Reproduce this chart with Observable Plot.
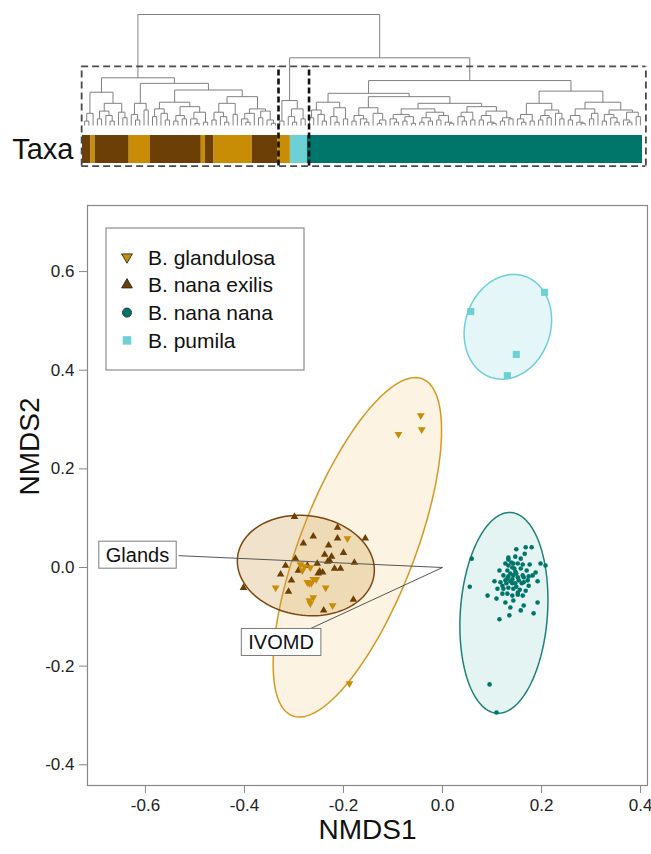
<!DOCTYPE html>
<html><head><meta charset="utf-8">
<script src="https://cdn.jsdelivr.net/npm/d3@7"></script>
<script src="https://cdn.jsdelivr.net/npm/@observablehq/plot@0.6"></script>
<style>
body{margin:0;background:#fff;overflow:hidden;}
#chart{width:651px;}
#chart svg{display:block;}
</style></head><body><div id="chart"></div>
<script>
const FONT = "'Liberation Sans', Arial, Helvetica, sans-serif";

// ---------- categories ----------
const taxa = ["B. glandulosa", "B. nana exilis", "B. nana nana", "B. pumila"];
const taxaColors = ["#C98C05", "#6B3F05", "#00756A", "#6ECFD5"];

// ---------- axis ticks ----------
const xTicks = [-0.6, -0.4, -0.2, 0.0, 0.2, 0.4];
const yTicks = [-0.4, -0.2, 0.0, 0.2, 0.4, 0.6];

// ---------- NMDS scores [NMDS1, NMDS2] ----------
const glandulosa = [[-0.044,0.308],[-0.042,0.280],[-0.089,0.270],[-0.188,-0.235],
  [-0.192,0.059],[-0.287,0.006],[-0.279,0.002],[-0.267,0.000],[-0.283,-0.006],[-0.261,-0.024],
  [-0.273,-0.030],[-0.269,-0.032],[-0.265,-0.032],[-0.255,-0.024],[-0.236,-0.041],[-0.337,-0.041],
  [-0.261,-0.061],[-0.269,-0.067],[-0.267,-0.073],[-0.222,-0.077]];
const nanaExilis = [[-0.299,0.103],[-0.212,0.081],[-0.261,0.063],[-0.281,0.049],[-0.212,0.059],
  [-0.156,0.059],[-0.230,0.045],[-0.200,0.030],[-0.238,0.026],[-0.224,0.022],[-0.228,0.014],
  [-0.232,0.012],[-0.297,0.018],[-0.178,0.010],[-0.317,0.004],[-0.253,0.008],[-0.273,0.004],
  [-0.218,-0.002],[-0.206,-0.002],[-0.291,-0.006],[-0.248,-0.008],[-0.242,-0.010],[-0.327,-0.014],
  [-0.251,-0.012],[-0.305,-0.026],[-0.402,-0.041],[-0.311,-0.049],[-0.180,-0.065],[-0.240,-0.087]];
const nanaNana = [[0.059,0.018],[0.055,-0.039],[0.095,-0.237],[0.109,-0.294],[0.208,0.004],
  [0.198,0.008],[0.180,0.041],[0.149,0.037],[0.166,0.028],[0.147,0.022],[0.133,0.016],[0.127,0.008],
  [0.139,0.010],[0.152,0.008],[0.162,0.006],[0.176,0.006],[0.115,-0.006],[0.131,-0.006],[0.141,0.000],
  [0.147,-0.008],[0.158,-0.002],[0.170,-0.006],[0.188,-0.010],[0.123,-0.016],[0.133,-0.018],
  [0.143,-0.016],[0.152,-0.020],[0.164,-0.020],[0.174,-0.018],[0.192,-0.028],[0.105,-0.028],
  [0.117,-0.030],[0.127,-0.026],[0.137,-0.028],[0.147,-0.032],[0.160,-0.032],[0.174,-0.037],
  [0.111,-0.043],[0.123,-0.043],[0.133,-0.041],[0.143,-0.043],[0.156,-0.045],[0.168,-0.047],
  [0.091,-0.057],[0.109,-0.063],[0.121,-0.053],[0.131,-0.053],[0.141,-0.057],[0.152,-0.055],
  [0.162,-0.057],[0.137,-0.081],[0.158,-0.087],[0.164,-0.077],[0.184,-0.093],[0.192,-0.071],
  [0.135,-0.097],[0.115,-0.105],[0.143,-0.067],[0.127,-0.071],
  [0.133,0.004],[0.143,0.008],[0.145,-0.002],[0.137,-0.012],[0.149,-0.012],[0.131,-0.022],
  [0.141,-0.024],[0.154,-0.026],[0.164,-0.030],[0.121,-0.037],[0.149,-0.039],[0.129,-0.032],
  [0.162,-0.016],[0.172,-0.026],[0.182,-0.016],[0.152,-0.051],[0.141,-0.032],[0.133,0.020],
  [0.158,0.018],[0.168,0.041]];
const pumila = [[0.057,0.519],[0.206,0.558],[0.149,0.432],[0.131,0.389]];

// ---------- dispersion ellipses (order of taxa) ----------
const ellipseCX = [-0.172, -0.276, 0.124, 0.132];
const ellipseCY = [0.041, 0.004, -0.092, 0.488];
const ellipseA = [0.366, 0.139, 0.204, 0.108];
const ellipseB = [0.116, 0.101, 0.088, 0.086];
const ellipseAngle = [69, -8, 86, 72];

// ---------- fitted vectors ----------
const vectorNames = ["Glands", "IVOMD"];
const vectorX = [-0.533, -0.267];
const vectorY = [0.024, -0.124];
const vectorLabelX = [-0.615, -0.325];
const vectorLabelY = [0.025, -0.152];

// ---------- dendrogram: [height, left, right], 0 = leaf ----------
const cluster1 = [43,
  [30, [11,[4,0,0],0], [20,[13,[6,0,0],[9,0,[4,0,0]]],[12,0,[7,0,0]]]],
  [38, [20,[10,0,[5,0,0]],[14,0,0]],
       [32, [21,[15,[8,0,0],[11,0,[5,0,0]]],[17,[9,[4,0,0],[6,0,0]],[12,[6,0,[2,0,0]],[3,0,0]]]],
            [26, [20,[12,[5,0,0],[8,0,[3,0,0]]],[10,0,0]],
                 [15,[11,[6,0,[3,0,0]],0],[13,[7,0,0],[5,0,[2,0,0]]]]]]]];
const cluster2 = [22.5, [4,0,0], [15,[8,0,[3,0,0]],[6,0,0]]];
const cluster3 = [40.5,
  [29, [21,[14,[7,0,0],[10,0,[4,0,0]]],[16,[8,0,[3,0,0]],[6,0,0]]],
       [26, [16,[9,[4,0,0],[6,0,[3,0,0]]],[11,0,[5,[2,0,0],0]]],
            [20, [15,[10,[6,0,[3,0,0]],[8,[4,0,0],[2,0,0]]],[12,[7,[3,0,0],[4,0,0]],[9,[5,0,0],[3,0,[2,0,0]]]]],
                 [17,[12,[8,0,[4,0,0]],[5,0,0]],[13,[9,[5,0,0],[3,0,[2,0,0]]],[7,[4,0,0],[6,0,0]]]]]]],
  [31, [20,[10,[6,0,[3,0,0]],[4,0,0]],[14,[9,[5,0,0],[7,0,0]],[11,0,[6,0,0]]]],
       [21,[15,[9,[5,0,0],[3,0,[2,0,0]]],[11,[6,0,0],0]],[14,[10,[4,0,0],[7,0,[3,0,0]]],[12,[5,0,[3,0,0]],[8,0,0]]]]]];
const rootHeight = 100;
const rightHeight = 61;
// taxon of each leaf, left to right (run lengths)
const taxaRuns = [["B. nana exilis",2],["B. glandulosa",1],["B. nana exilis",8],["B. glandulosa",5],
  ["B. nana exilis",12],["B. glandulosa",1],["B. nana exilis",2],["B. glandulosa",9],
  ["B. nana exilis",6],["B. glandulosa",3],["B. pumila",4],["B. nana nana",79]];

// ================= build dendrogram =================
const tree = [rootHeight, cluster1, [rightHeight, cluster2, cluster3]];
let leafCounter = 0;
const segs = [];
function layout(node) {
  if (node === 0) return {x: leafCounter++, h: 0};
  const [h, ...kids] = node;
  const pos = kids.map(layout);
  pos.forEach(p => segs.push({x1: p.x, y1: p.h, x2: p.x, y2: h}));
  segs.push({x1: pos[0].x, y1: h, x2: pos[pos.length - 1].x, y2: h});
  return {x: (pos[0].x + pos[pos.length - 1].x) / 2, h};
}
layout(tree);
const nLeaves = leafCounter;
const countLeaves = n => n === 0 ? 1 : n.slice(1).reduce((s, k) => s + countLeaves(k), 0);
const clusterSizes = [cluster1, cluster2, cluster3].map(countLeaves);
const boundaries = [-0.5];
clusterSizes.forEach(s => boundaries.push(boundaries[boundaries.length - 1] + s));
const innerBounds = boundaries.slice(1, -1);
const outerBounds = [boundaries[0], boundaries[boundaries.length - 1]];
const runs = [];
let pos0 = -0.5;
taxaRuns.forEach(([t, n]) => { runs.push({taxon: t, x1: pos0, x2: pos0 + n}); pos0 += n; });

const bandTop = -9, bandBottom = -34.2, boxTop = 53.2, boxBottom = -36.5;

const dendroChart = Plot.plot({
  width: 651, height: 185,
  marginLeft: 82, marginRight: 9, marginTop: 14, marginBottom: 19,
  style: {fontFamily: FONT, background: "white"},
  x: {domain: [-0.5, nLeaves - 0.5], axis: null},
  y: {domain: [-36.9, 100], axis: null},
  color: {domain: taxa, range: taxaColors},
  marks: [
    Plot.rect(runs, {x1: "x1", x2: "x2", y1: () => bandTop, y2: () => bandBottom, fill: "taxon"}),
    Plot.link(segs, {x1: "x1", y1: "y1", x2: "x2", y2: "y2", stroke: "#808080", strokeWidth: 1}),
    Plot.ruleY([boxTop, boxBottom], {x1: () => outerBounds[0] - 0.2, x2: () => outerBounds[1] + 0.8,
      stroke: "#4a4a4a", strokeWidth: 1.8, strokeDasharray: "7,4"}),
    Plot.ruleX(outerBounds, {x: (d, i) => d + (i === 0 ? -0.2 : 0.8), y1: () => boxBottom, y2: () => boxTop,
      stroke: "#4a4a4a", strokeWidth: 1.8, strokeDasharray: "7,4"}),
    Plot.ruleX(innerBounds, {x: (d, i) => d + (i === 0 ? 0.2 : 0.4), y1: () => boxBottom, y2: () => boxTop,
      stroke: "#111", strokeWidth: 2.6, strokeDasharray: "6,3"}),
    Plot.text(["Taxa"], {x: () => -0.5, y: () => (bandTop + bandBottom) / 2, dx: -9,
      textAnchor: "end", fontSize: 29, fill: "#111"})
  ]
});

// ================= scatter =================
const triDown = {draw(ctx, size) {
  const flip = {moveTo: (x, y) => ctx.moveTo(x, -y), lineTo: (x, y) => ctx.lineTo(x, -y), closePath: () => ctx.closePath()};
  d3.symbolTriangle.draw(flip, size);
}};
const ellipseStyle = [
  {fill: "#E6A020", op: 0.13, stroke: "#D39A22"},
  {fill: "#CD9A45", op: 0.28, stroke: "#7A4812"},
  {fill: "#1AA390", op: 0.12, stroke: "#1F8276"},
  {fill: "#6ECFD5", op: 0.19, stroke: "#6ECFD5"}
];
function ellipsePoints(i) {
  const th = ellipseAngle[i] * Math.PI / 180, pts = [];
  for (let k = 0; k <= 120; k++) {
    const t = 2 * Math.PI * k / 120;
    const ex = ellipseA[i] * Math.cos(t), ey = ellipseB[i] * Math.sin(t);
    pts.push([ellipseCX[i] + ex * Math.cos(th) - ey * Math.sin(th), ellipseCY[i] + ex * Math.sin(th) + ey * Math.cos(th)]);
  }
  return pts;
}
const vectors = vectorNames.map((n, i) => ({name: n, x: vectorX[i], y: vectorY[i], lx: vectorLabelX[i], ly: vectorLabelY[i]}));
const measureCtx = document.createElement("canvas").getContext("2d");

function vectorLabels(index, scales) {
  const g = d3.create("svg:g").attr("font-family", FONT);
  measureCtx.font = "20px " + FONT;
  vectors.forEach(v => {
    const cx = scales.x(v.lx), cy = scales.y(v.ly);
    const w = measureCtx.measureText(v.name).width + 14, h = 27;
    g.append("rect").attr("x", cx - w / 2).attr("y", cy - h / 2).attr("width", w).attr("height", h)
      .attr("fill", "white").attr("stroke", "#7a7a7a").attr("stroke-width", 1);
    g.append("text").attr("x", cx).attr("y", cy).attr("dy", "0.36em").attr("text-anchor", "middle")
      .attr("font-size", 20).attr("fill", "#111").text(v.name);
  });
  return g.node();
}
const legendSymbols = [triDown, d3.symbolTriangle, d3.symbolCircle, d3.symbolSquare];
const legendSizes = [50, 50, 64, 72];
function legend(index, scales, values, dims) {
  const g = d3.create("svg:g").attr("font-family", FONT);
  const x0 = dims.marginLeft + 19, y0 = dims.marginTop + 23;
  g.append("rect").attr("x", x0).attr("y", y0).attr("width", 198).attr("height", 142)
    .attr("fill", "white").attr("stroke", "#777");
  taxa.forEach((t, i) => {
    const cy = y0 + 29 + i * 27.8;
    g.append("path").attr("transform", `translate(${x0 + 21},${cy})`)
      .attr("d", d3.symbol(legendSymbols[i], legendSizes[i])())
      .attr("fill", taxaColors[i]).attr("stroke", i === 3 ? "none" : "#2a2a2a").attr("stroke-width", 0.9);
    g.append("text").attr("x", x0 + 42).attr("y", cy).attr("dy", "0.36em")
      .attr("text-anchor", "start").attr("font-size", 21).attr("fill", "#111").text(t);
  });
  return g.node();
}

const ellipseMarks = taxa.map((t, i) => Plot.line(ellipsePoints(i), {
  x: d => d[0], y: d => d[1], fill: ellipseStyle[i].fill, fillOpacity: ellipseStyle[i].op,
  stroke: ellipseStyle[i].stroke, strokeWidth: 1.5, curve: "linear-closed"}));

const scatterChart = Plot.plot({
  width: 651, height: 669,
  marginLeft: 87, marginRight: 4, marginTop: 20, marginBottom: 69,
  style: {fontFamily: FONT, background: "white", fontSize: "17px"},
  x: {domain: [-0.717, 0.414]},
  y: {domain: [-0.442, 0.734]},
  marks: [
    ...ellipseMarks,
    Plot.dot(nanaExilis, {x: d => d[0], y: d => d[1], symbol: "triangle", r: 2.8, fill: taxaColors[1]}),
    Plot.dot(glandulosa, {x: d => d[0], y: d => d[1], symbol: triDown, r: 2.9, fill: taxaColors[0]}),
    Plot.dot(nanaNana, {x: d => d[0], y: d => d[1], symbol: "circle", r: 2.3, fill: taxaColors[2]}),
    Plot.dot(pumila, {x: d => d[0], y: d => d[1], symbol: "square", r: 4.0, fill: taxaColors[3]}),
    Plot.link(vectors, {x1: () => 0, y1: () => 0, x2: "x", y2: "y", stroke: "#555", strokeWidth: 1}),
    vectorLabels,
    legend,
    Plot.frame({stroke: "#888", strokeWidth: 1.2}),
    Plot.axisX({ticks: xTicks, tickSize: 8, tickPadding: 5, tickFormat: d => d.toFixed(1),
      fontSize: 17, stroke: "#888", fill: "#222", label: null}),
    Plot.axisY({ticks: yTicks, tickSize: 8, tickPadding: 5, tickFormat: d => d.toFixed(1),
      fontSize: 17, stroke: "#888", fill: "#222", label: null}),
    Plot.text(["NMDS1"], {frameAnchor: "bottom", dy: 53, fontSize: 28, fill: "#111"}),
    Plot.text(["NMDS2"], {frameAnchor: "left", dx: -57, rotate: -90, fontSize: 28, fill: "#111"})
  ]
});

const chart = document.getElementById("chart");
chart.appendChild(dendroChart);
chart.appendChild(scatterChart);
</script>
</body></html>
